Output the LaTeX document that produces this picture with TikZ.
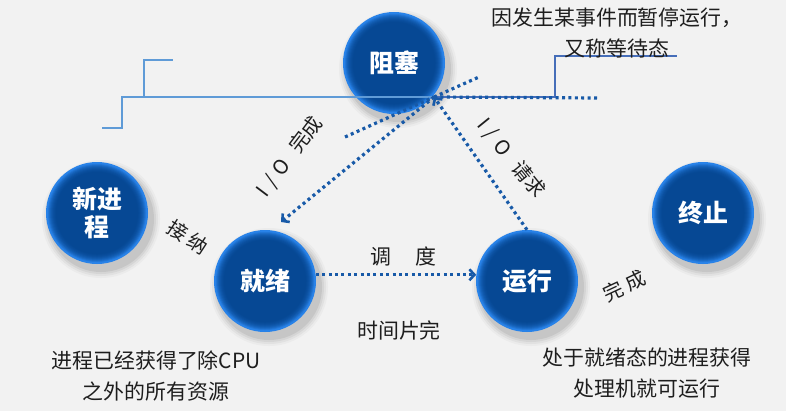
\documentclass[tikz,border=0pt]{standalone}
\usepackage{fontspec}
\setmainfont{Noto Sans CJK SC}
\usetikzlibrary{arrows.meta,calc}
\pgfdeclarelayer{shadowlayer}
\pgfdeclarelayer{bglayer}
\pgfsetlayers{bglayer,shadowlayer,main}
\definecolor{bgc}{RGB}{242,242,242}
\definecolor{ballin}{RGB}{6,72,148}
\definecolor{ballout}{RGB}{40,130,232}
\definecolor{dotc}{RGB}{24,90,168}
\definecolor{lineL}{RGB}{95,155,215}
\definecolor{lineR}{RGB}{70,110,185}
\definecolor{txt}{RGB}{30,30,30}
\tikzset{
  ball/.style={circle, minimum size=102bp, inner sep=0pt, fill=ballout,
    path picture={
      \foreach \r/\m in {49/80,48/60,47/45,46/32,45/22,44/14,43/8,42/4,41/0}{
        \fill[ballout!\m!ballin] (path picture bounding box.center) circle[radius=\r bp];
      }
    },
    text=white, font=\fontsize{25}{28}\selectfont\bfseries, align=center},
  dotline/.style={draw=dotc, line width=3.2bp, dash pattern=on 3bp off 3.4bp},
  dotarrow/.style={dotline, -{Straight Barb[length=5bp,width=11bp,line width=2.6bp]}},
  lbl/.style={text=txt, font=\fontsize{20}{23}\selectfont, inner sep=0pt},
  desc/.style={text=txt, font=\fontsize{21}{31}\selectfont, align=center, inner sep=0pt},
  bline/.style={line width=2bp}
}
\begin{document}
\begin{tikzpicture}[x=1bp,y=-1bp]
\useasboundingbox (0,0) rectangle (786,411);
\begin{pgfonlayer}{bglayer}
\fill[bgc] (0,0) rectangle (786,411);
\end{pgfonlayer}

% circles
\node[ball] (blk) at (394,63) {阻塞};
\node[ball] (new) at (97,213) {新进\\程};
\node[ball] (rdy) at (265,281) {就绪};
\node[ball] (run) at (527,281) {运行};
\node[ball] (end) at (703,213) {终止};

% soft shadows
\begin{pgfonlayer}{shadowlayer}
\foreach \n in {blk,new,rdy,run,end}{
  \foreach \r/\m in {59/97,57/93,55/88,53/82}{
    \fill[bgc!\m!black] ($(\n.center)+(4,6)$) circle[radius=\r bp];
  }
}
\end{pgfonlayer}

% coordinates
\coordinate (jn) at (434,97);
\coordinate (a1) at (281,222);
\coordinate (s1) at (345,137);
\coordinate (s2) at (479,77);
\coordinate (s3) at (600,98);
\coordinate (l1) at (102,128);
\coordinate (l2) at (122,128);
\coordinate (l3) at (122,97);
\coordinate (l4) at (144,97);
\coordinate (l5) at (144,60);
\coordinate (l6) at (173,60);
\coordinate (r1) at (555,97);
\coordinate (r2) at (555,56);
\coordinate (r3) at (677,56);

% solid blue lines
\draw[bline, lineL] (l1) -- (l2) -- (l3) -- (jn);
\draw[bline, lineL] (l4) -- (l5) -- (l6);
\draw[bline, lineR] (jn) -- (r1) -- (r2) -- (r3);

% dotted lines
\draw[dotline] (s1) -- (jn);
\draw[dotline] (jn) -- (s2);
\draw[dotline] (jn) -- (s3);
\draw[dotarrow] (jn) -- (a1);
\draw[dotarrow] (run.north) -- (jn);
\draw[dotarrow] (rdy.7) -- (run.173);

% labels
\node[lbl, rotate=53] (lio1) at (290,157) {I\,\,/\,\,O\ \ \ 完成};
\node[lbl, rotate=-51] (lio2) at (511,158) {I\,\,/\,\,O\ \ \ 请求};
\node[lbl, rotate=-33] (ljn) at (188,237) {接\ 纳};
\node[lbl, rotate=25] (lwc) at (624,286) {完\ 成};
\node[lbl, font=\fontsize{21}{24}\selectfont] (ldd) at (403,256) {调\hspace{24bp}度};
\node[lbl, font=\fontsize{21}{24}\selectfont] (lsj) at (399,330) {时间片完};

% descriptions
\node[desc] (d1) at (617,33) {因发生某事件而暂停运行，\\又称等待态};
\node[desc] (d2) at (156,376) {进程已经获得了除CPU\\之外的所有资源};
\node[desc] (d3) at (647,373) {处于就绪态的进程获得\\处理机就可运行};
\end{tikzpicture}
\end{document}
